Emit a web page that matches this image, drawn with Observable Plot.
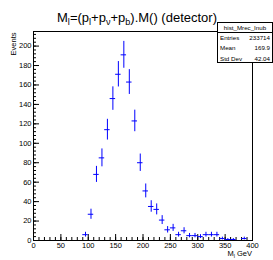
<!DOCTYPE html>
<html>
<head>
<meta charset="utf-8">
<script src="https://cdn.jsdelivr.net/npm/d3@7"></script>
<script src="https://cdn.jsdelivr.net/npm/@observablehq/plot@0.6"></script>
<style>
  html, body { margin: 0; padding: 0; background: #fff; }
  #wrap { position: relative; width: 273px; height: 260px; font-family: "Liberation Sans", Arial, sans-serif; }
  #stats { position: absolute; left: 217px; top: 22px; width: 56px; height: 41px; border: 1px solid #000; background: #fff; font-size: 6.2px; color: #000; box-sizing: border-box; }
  #stats .hd { text-align: center; border-bottom: 1px solid #000; height: 9px; line-height: 9px; }
  #stats .row { display: flex; justify-content: space-between; padding: 0 2px; height: 10.3px; line-height: 10.3px; }
</style>
</head>
<body>
<div id="wrap"></div>
<script>
const binCenters = [95,105,115,125,135,145,155,165,175,185,195,205,215,225,235,245,255,265,275,285,295,305,315,325,335,345,355,365,385];
const counts     = [6, 27, 68, 85, 114,146,171,191,163,123,80, 51, 35, 32, 21, 11, 13, 6,  10, 5,  5,  4,  6,  6,  6,  2,  1,  1,  2];
const binWidth = 10;
const xMajorTicks = [0,50,100,150,200,250,300,350,400];
const yMajorTicks = [0,20,40,60,80,100,120,140,160,180,200];
const statsLabels = ["Entries","Mean","Std Dev"];
const statsValues = ["233714","169.9","42.04"];

const data = binCenters.map((x, i) => ({x, y: counts[i], e: Math.sqrt(counts[i])}));
const xMinor = d3.range(0, 401, 10);
const yMinor = d3.range(0, 215, 4);

const plot = Plot.plot({
  width: 273,
  height: 260,
  marginLeft: 33,
  marginRight: 21,
  marginTop: 31,
  marginBottom: 20,
  style: {fontFamily: "Liberation Sans, Arial, sans-serif", fontSize: "7.5px", background: "#fff", overflow: "visible"},
  x: {domain: [0, 400]},
  y: {domain: [0, 215]},
  marks: [
    Plot.axisX({ticks: xMinor, tickSize: -3, tickFormat: () => "", stroke: "#000", label: null}),
    Plot.axisX({ticks: xMajorTicks, tickSize: -6, tickFormat: () => "", stroke: "#000", label: null}),
    Plot.axisX({ticks: xMajorTicks, tickSize: 0, tickPadding: 2, fontSize: 7.5, fill: "#000", label: null}),
    Plot.axisY({ticks: yMinor, tickSize: -3, tickFormat: () => "", stroke: "#000", label: null}),
    Plot.axisY({ticks: yMajorTicks, tickSize: -6, tickFormat: () => "", stroke: "#000", label: null}),
    Plot.axisY({ticks: yMajorTicks, tickSize: 0, tickPadding: 2, fontSize: 7.5, fill: "#000", label: null}),
    Plot.ruleX(data, {x: "x", y1: d => d.y - d.e, y2: d => d.y + d.e, stroke: "#0000ff", strokeWidth: 1}),
    Plot.ruleY(data, {y: "y", x1: d => d.x - binWidth / 2, x2: d => d.x + binWidth / 2, stroke: "#0000ff", strokeWidth: 1}),
    Plot.frame({stroke: "#000", strokeWidth: 1}),
    Plot.text([0], {frameAnchor: "top-left", text: () => "Events", rotate: -90, dx: -23, dy: 1, fontSize: 7.5, fill: "#000", textAnchor: "end"})
  ]
});
document.getElementById("wrap").appendChild(plot);

const svg = d3.select(plot);
function richText(x, y, size, anchor, parts) {
  const t = svg.append("text")
    .attr("x", x).attr("y", y)
    .attr("text-anchor", anchor)
    .attr("font-size", size)
    .attr("fill", "#000")
    .attr("font-family", "Liberation Sans, Arial, sans-serif");
  let prevSub = false;
  const off = size * 0.25;
  parts.forEach(([s, kind]) => {
    const ts = t.append("tspan").text(s);
    if (kind === "sub") { ts.attr("dy", prevSub ? 0 : off).attr("font-size", size * 0.7); prevSub = true; }
    else if (prevSub) { ts.attr("dy", -off); prevSub = false; }
  });
  return t;
}
// Title
richText(137, 22, 13, "middle", [["M",""],["l","sub"],["=(p",""],["l","sub"],["+p",""],["\u03bd","sub"],["+p",""],["b","sub"],[").M() (detector)",""]]);
// X axis title
richText(252, 256, 7.5, "end", [["M",""],["l","sub"],[" GeV",""]]);

// Stats box
const stats = d3.select("#wrap").append("div").attr("id", "stats");
stats.append("div").attr("class", "hd").text("hist_Mrec_Inub");
statsLabels.forEach((l, i) => {
  const r = stats.append("div").attr("class", "row");
  r.append("span").text(l);
  r.append("span").text(statsValues[i]);
});
d3.select(plot).style("position", "absolute").style("left", "0").style("top", "0");
</script>
</body>
</html>
